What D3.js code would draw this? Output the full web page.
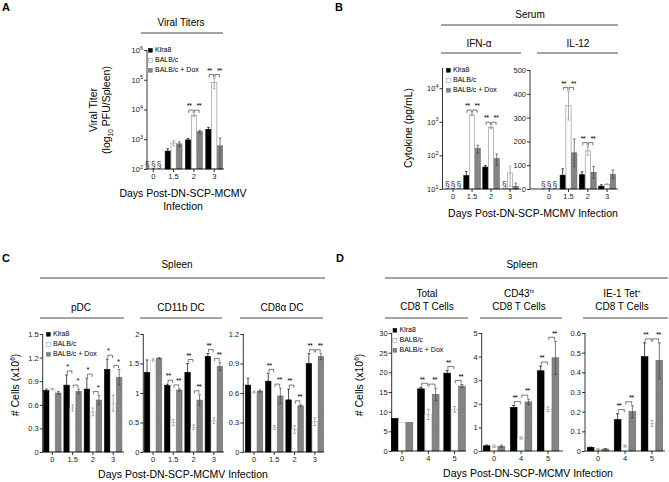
<!DOCTYPE html>
<html><head><meta charset="utf-8">
<script src="https://cdn.jsdelivr.net/npm/d3@7"></script>
<style>
body{margin:0;background:#fff}
svg{font-family:"Liberation Sans",Arial,sans-serif;display:block}
</style></head><body>
<svg width="669" height="482"></svg>
<script>
const seriesNames = ["Klra8", "BALB/c", "BALB/c + Dox"];
const daysEarly = ["0", "1.5", "2", "3"];
const daysLate = ["0", "4", "5"];

// rows = series (Klra8, BALB/c, BALB/c + Dox), cols = days; null = not detected (§)
const titerMean = [[null, 400, 950, 2150], [null, 750, 6400, 80000], [null, 700, 1800, 600]];
const titerErr  = [[0, 80, 100, 350], [0, 150, 600, 30000], [0, 120, 200, 500]];
const titerSig  = [["", ""], ["", ""], ["**", "**"], ["**", "**"]];
const titerTicks = [1e2, 1e3, 1e4, 1e5, 1e6];

const ifnMean = [[null, 25, 45, null], [null, 1600, 680, 30], [null, 160, 80, 12]];
const ifnErr  = [[0, 8, 5, 0], [0, 100, 60, 18], [0, 40, 30, 3]];
const ifnSig  = [["", ""], ["**", "**"], ["**", "**"], ["", ""]];
const ifnTicks = [1e1, 1e2, 1e3, 1e4];

const il12Mean = [[null, 58, 60, 12], [null, 350, 160, 20], [null, 152, 70, 62]];
const il12Err  = [[0, 27, 12, 6], [0, 60, 18, 2], [0, 58, 25, 18]];
const il12Sig  = [["", ""], ["**", "**"], ["**", "**"], ["", ""]];
const il12Ticks = [0, 100, 200, 300, 400, 500];

const pdcMean = [[0.78, 0.85, 0.80, 1.05], [0.80, 0.56, 0.51, 0.62], [0.75, 0.77, 0.66, 0.95]];
const pdcErr  = [[0.02, 0.13, 0.14, 0.13], [0.01, 0.04, 0.05, 0.10], [0.02, 0.03, 0.06, 0.10]];
const pdcSig  = [["", ""], ["*", "*"], ["*", "*"], ["*", "*"]];
const pdcTicks = [0, 0.3, 0.6, 0.9, 1.2, 1.5];

const cd11bMean = [[1.35, 1.13, 1.35, 1.62], [1.56, 0.50, 0.42, 0.53], [1.59, 1.05, 0.88, 1.45]];
const cd11bErr  = [[0.21, 0.02, 0.15, 0.05], [0.02, 0.05, 0.04, 0.05], [0.01, 0.02, 0.09, 0.07]];
const cd11bSig  = [["", ""], ["**", "**"], ["**", "**"], ["**", "**"]];
const cd11bTicks = [0, 0.5, 1, 1.5, 2];

const cd8aMean = [[0.68, 0.72, 0.53, 0.90], [0.61, 0.25, 0.23, 0.31], [0.62, 0.57, 0.47, 0.97]];
const cd8aErr  = [[0.07, 0.08, 0.11, 0.10], [0.01, 0.02, 0.04, 0.04], [0.01, 0.08, 0.01, 0.03]];
const cd8aSig  = [["", ""], ["**", "**"], ["**", "**"], ["**", "**"]];
const cd8aTicks = [0, 0.3, 0.6, 0.9, 1.2];

const totalMean = [[8.3, 15.8, 19.8], [7.3, 9.3, 10.6], [7.3, 14.4, 16.5]];
const totalErr  = [[0, 0.4, 0.7], [0, 1.3, 0.7], [0, 1.6, 0.4]];
const totalSig  = [["", ""], ["**", "**"], ["**", "**"]];
const totalTicks = [0, 5, 10, 15, 20, 25, 30];

const cd43Mean = [[0.22, 1.85, 3.4], [0.20, 0.55, 1.77], [0.20, 2.08, 3.95]];
const cd43Err  = [[0.03, 0.08, 0.2], [0.05, 0.05, 0.1], [0.05, 0.12, 0.7]];
const cd43Sig  = [["", ""], ["**", "**"], ["**", "**"]];
const cd43Ticks = [0, 1, 2, 3, 4, 5];

const tetMean = [[0.018, 0.16, 0.48], [0.008, 0.025, 0.14], [0.01, 0.20, 0.46]];
const tetErr  = [[0.002, 0.03, 0.07], [0.005, 0.005, 0.015], [0.003, 0.03, 0.09]];
const tetSig  = [["", ""], ["**", "**"], ["**", "**"]];
const tetTicks = [0, 0.1, 0.2, 0.3, 0.4, 0.5, 0.6];

var svg = d3.select("svg");

var defs = svg.append("defs");
var pat = defs.append("pattern")
    .attr("id", "hatch")
    .attr("patternUnits", "userSpaceOnUse")
    .attr("width", 2.6).attr("height", 2.6)
    .attr("patternTransform", "rotate(45)");
pat.append("rect").attr("width", 2.6).attr("height", 2.6).attr("fill", "#8a8a8a");
pat.append("line").attr("x1", 0).attr("y1", 0).attr("x2", 0).attr("y2", 2.6)
    .attr("stroke", "#666").attr("stroke-width", 0.9);

function fills(si, light) {
  if (si == 0) return {fill: "#000", stroke: "#000", err: "#000"};
  if (si == 1) return {fill: "#fff", stroke: light ? "#c4c4c4" : "#8a8a8a", err: "#8a8a8a"};
  return {fill: "url(#hatch)", stroke: "#666", err: "#444"};
}

function drawPanel(c) {
  var g = svg.append("g");
  var x = d3.scaleBand().domain(c.groups).range([c.x0, c.x1]).paddingInner(c.pad);
  var xs = d3.scaleBand().domain([0, 1, 2]).range([0, x.bandwidth()]);
  var y = c.log ? d3.scaleLog() : d3.scaleLinear();
  y.domain(c.domain).range([c.yb, c.yt]);
  var base = y(c.domain[0]);
  var bw = xs.bandwidth();
  var cx = function(gi, si) { return x(c.groups[gi]) + xs(si) + bw / 2; };
  var topOf = function(si, gi) {
    var v = c.mean[si][gi];
    return v == null ? base : y(v + c.err[si][gi]);
  };

  c.groups.forEach(function(grp, gi) {
    [0, 1, 2].forEach(function(si) {
      var v = c.mean[si][gi], f = fills(si, c.light);
      if (v == null) {
        g.append("text").attr("x", cx(gi, si)).attr("y", base - 1.5)
          .attr("text-anchor", "middle").attr("font-size", 8.5).attr("fill", "#333").text("§");
        return;
      }
      g.append("rect")
        .attr("x", x(grp) + xs(si) + 0.3).attr("y", y(v))
        .attr("width", bw - 0.6).attr("height", base - y(v))
        .attr("fill", f.fill).attr("stroke", f.stroke).attr("stroke-width", 0.6);
      var e = c.err[si][gi];
      if (e > 0) {
        var lo = v - e;
        var ylo = (c.log && lo <= c.domain[0]) ? base : Math.min(base, y(Math.max(lo, c.domain[0])));
        var yhi = y(v + e);
        var xm = cx(gi, si), cap = bw * 0.22;
        g.append("path")
          .attr("d", "M" + xm + "," + ylo + "V" + yhi +
                     "M" + (xm - cap) + "," + yhi + "H" + (xm + cap) +
                     "M" + (xm - cap) + "," + ylo + "H" + (xm + cap))
          .attr("fill", "none").attr("stroke", f.err).attr("stroke-width", 0.7);
      }
    });
    // significance brackets; stars nudged outward so the two pairs stay apart
    c.sig[gi].forEach(function(s, pi) {
      if (!s) return;
      var t = Math.min(topOf(pi, gi), topOf(pi + 1, gi)) - 4;
      var xa = cx(gi, pi) + 0.7, xb = cx(gi, pi + 1) - 0.7;
      g.append("path").attr("d", "M" + xa + "," + (t + 2.8) + "V" + t + "H" + xb + "V" + (t + 2.8))
        .attr("fill", "none").attr("stroke", "#222").attr("stroke-width", 0.6);
      var nudge = (pi == 0 ? -1 : 1) * bw * 0.35;
      g.append("text").attr("x", (xa + xb) / 2 + nudge).attr("y", t + 3.2)
        .attr("text-anchor", "middle").attr("font-size", 7.5).attr("letter-spacing", -0.6)
        .attr("dy", "-0.65em").text(s);
    });
  });

  // y axis
  var ya = g.append("g").attr("transform", "translate(" + c.ax + ",0)")
    .call(d3.axisLeft(y).tickValues(c.ticks).tickSize(3).tickSizeOuter(0)
      .tickFormat(c.log ? function() { return "10"; } : function(d) { return String(+d.toFixed(2)); }));
  ya.attr("font-size", 7.5).attr("font-family", null);
  ya.select(".domain").attr("d", "M0," + c.yt + "V" + base).attr("stroke-width", 0.8);
  ya.selectAll(".tick line").attr("stroke-width", 0.8);
  ya.selectAll(".tick text").attr("x", -4).attr("fill", "#222");
  if (c.log) {
    ya.selectAll(".tick text").each(function(d) {
      d3.select(this).append("tspan").attr("dy", -3.2).attr("font-size", 5.5)
        .text(Math.round(Math.log10(d)));
    });
  }

  // x axis
  var xa = g.append("g").attr("transform", "translate(0," + base + ")")
    .call(d3.axisBottom(x).tickSize(3).tickSizeOuter(0));
  xa.attr("font-size", 7.5).attr("font-family", null);
  xa.select(".domain").attr("d", "M" + c.ax + ",0H" + c.xe).attr("stroke-width", 0.8);
  xa.selectAll(".tick line").attr("stroke-width", 0.8);
  xa.selectAll(".tick text").attr("y", 5).attr("fill", "#222");

  if (c.legend) {
    seriesNames.forEach(function(n, si) {
      var f = fills(si, false);
      var ly = c.legend[1] + si * 10;
      g.append("rect").attr("x", c.legend[0]).attr("y", ly - 3.6).attr("width", 3.8).attr("height", 3.8)
        .attr("fill", f.fill).attr("stroke", f.stroke).attr("stroke-width", 0.5);
      g.append("text").attr("x", c.legend[0] + 6.5).attr("y", ly).attr("font-size", 7).text(n);
    });
  }
}

function header(lines, cx, y0, x1, x2, ly) {
  lines.forEach(function(l, i) {
    var t = svg.append("text").attr("x", cx).attr("y", y0 + i * 12.5)
      .attr("text-anchor", "middle").attr("font-size", 10);
    t.append("tspan").text(l[0]);
    if (l[1]) t.append("tspan").attr("font-size", 5.5).attr("dy", -4).text(l[1]);
  });
  svg.append("line").attr("x1", x1).attr("x2", x2).attr("y1", ly).attr("y2", ly)
    .attr("stroke", "#333").attr("stroke-width", 0.9);
}

function vlabel(parts, x, y) {
  var t = svg.append("text").attr("transform", "translate(" + x + "," + y + ") rotate(-90)")
    .attr("text-anchor", "middle").attr("font-size", 10.5);
  parts.forEach(function(p) {
    var s = t.append("tspan").text(p.t);
    if (p.sup) s.attr("font-size", 6.5).attr("dy", -4);
    if (p.sub) s.attr("font-size", 6.5).attr("dy", 2.5);
    if (p.back) s.attr("dy", p.back);
  });
}

function letter(s, x, y) {
  svg.append("text").attr("x", x).attr("y", y).attr("font-size", 11).attr("font-weight", "bold").text(s);
}

// ---- Panel A ----
letter("A", 2, 11);
header([["Viral Titers"]], 181, 26, 141, 223, 33);
drawPanel({groups: daysEarly, mean: titerMean, err: titerErr, sig: titerSig, ticks: titerTicks,
  log: true, domain: [1e2, 1e6], yb: 169, yt: 50, x0: 144.5, x1: 223, pad: 0.14, ax: 147, xe: 224,
  legend: [148.5, 52]});
vlabel([{t: "Viral Titer"}], 97, 110);
vlabel([{t: "(log"}, {t: "10", sub: true}, {t: " PFU/Spleen)", back: -2.5}], 110, 110);
svg.append("text").attr("x", 183).attr("y", 197).attr("text-anchor", "middle").attr("font-size", 10.5)
  .text("Days Post-DN-SCP-MCMV");
svg.append("text").attr("x", 183).attr("y", 210).attr("text-anchor", "middle").attr("font-size", 10.5)
  .text("Infection");

// ---- Panel B ----
letter("B", 335, 11);
header([["Serum"]], 530, 18, 441, 618, 25);
header([["IFN-α"]], 479, 47, 441, 521, 53);
header([["IL-12"]], 578, 47, 537, 618, 53);
drawPanel({groups: daysEarly, mean: ifnMean, err: ifnErr, sig: ifnSig, ticks: ifnTicks,
  log: true, domain: [1e1, Math.pow(10, 4.6)], yb: 189, yt: 68, x0: 444.5, x1: 518.6, pad: 0.1, ax: 442.5, xe: 521,
  legend: [446.5, 72]});
drawPanel({groups: daysEarly, mean: il12Mean, err: il12Err, sig: il12Sig, ticks: il12Ticks,
  log: false, domain: [0, 500], yb: 189, yt: 70, x0: 540.5, x1: 615.8, pad: 0.1, ax: 530, xe: 618});
vlabel([{t: "Cytokine (pg/mL)"}], 412, 128);
svg.append("text").attr("x", 533).attr("y", 217).attr("text-anchor", "middle").attr("font-size", 10.5)
  .text("Days Post-DN-SCP-MCMV Infection");

// ---- Panel C ----
letter("C", 2, 262);
header([["Spleen"]], 177, 268, 40, 325, 278);
header([["pDC"]], 81, 311, 40, 124, 318);
header([["CD11b DC"]], 181, 311, 140, 222, 318);
header([["CD8α DC"]], 282, 311, 240, 323, 318);
drawPanel({groups: daysEarly, mean: pdcMean, err: pdcErr, sig: pdcSig, ticks: pdcTicks, light: true,
  log: false, domain: [0, 1.5], yb: 452, yt: 334, x0: 43.3, x1: 122.2, pad: 0.11, ax: 42.7, xe: 124,
  legend: [46.5, 336]});
drawPanel({groups: daysEarly, mean: cd11bMean, err: cd11bErr, sig: cd11bSig, ticks: cd11bTicks, light: true,
  log: false, domain: [0, 2], yb: 452, yt: 334, x0: 144, x1: 222.9, pad: 0.11, ax: 143.3, xe: 224});
drawPanel({groups: daysEarly, mean: cd8aMean, err: cd8aErr, sig: cd8aSig, ticks: cd8aTicks, light: true,
  log: false, domain: [0, 1.2], yb: 452, yt: 334, x0: 245, x1: 323.9, pad: 0.11, ax: 243.3, xe: 324});
vlabel([{t: "# Cells (x10"}, {t: "6", sup: true}, {t: ")", back: 4}], 19, 385);
svg.append("text").attr("x", 183).attr("y", 478).attr("text-anchor", "middle").attr("font-size", 10.5)
  .text("Days Post-DN-SCP-MCMV Infection");

// ---- Panel D ----
letter("D", 336, 262);
header([["Spleen"]], 522, 268, 385, 668, 278);
header([["Total"], ["CD8 T Cells"]], 427, 297, 385, 468, 318);
header([["CD43", "hi"], ["CD8 T Cells"]], 519, 297, 480, 562, 318);
header([["IE-1 Tet", "+"], ["CD8 T Cells"]], 622, 297, 583, 668, 318);
drawPanel({groups: daysLate, mean: totalMean, err: totalErr, sig: totalSig, ticks: totalTicks, light: true,
  log: false, domain: [0, 30], yb: 451, yt: 333, x0: 391, x1: 465.6, pad: 0.16, ax: 391.7, xe: 466,
  legend: [393, 332]});
drawPanel({groups: daysLate, mean: cd43Mean, err: cd43Err, sig: cd43Sig, ticks: cd43Ticks, light: true,
  log: false, domain: [0, 5], yb: 451, yt: 333, x0: 483, x1: 559.1, pad: 0.18, ax: 481.7, xe: 563});
drawPanel({groups: daysLate, mean: tetMean, err: tetErr, sig: tetSig, ticks: tetTicks, light: true,
  log: false, domain: [0, 0.6], yb: 451, yt: 333, x0: 587, x1: 663, pad: 0.18, ax: 585, xe: 665});
vlabel([{t: "# Cells (x10"}, {t: "6", sup: true}, {t: ")", back: 4}], 363, 385);
svg.append("text").attr("x", 528).attr("y", 477).attr("text-anchor", "middle").attr("font-size", 10.5)
  .text("Days Post-DN-SCP-MCMV Infection");
</script>
</body></html>
